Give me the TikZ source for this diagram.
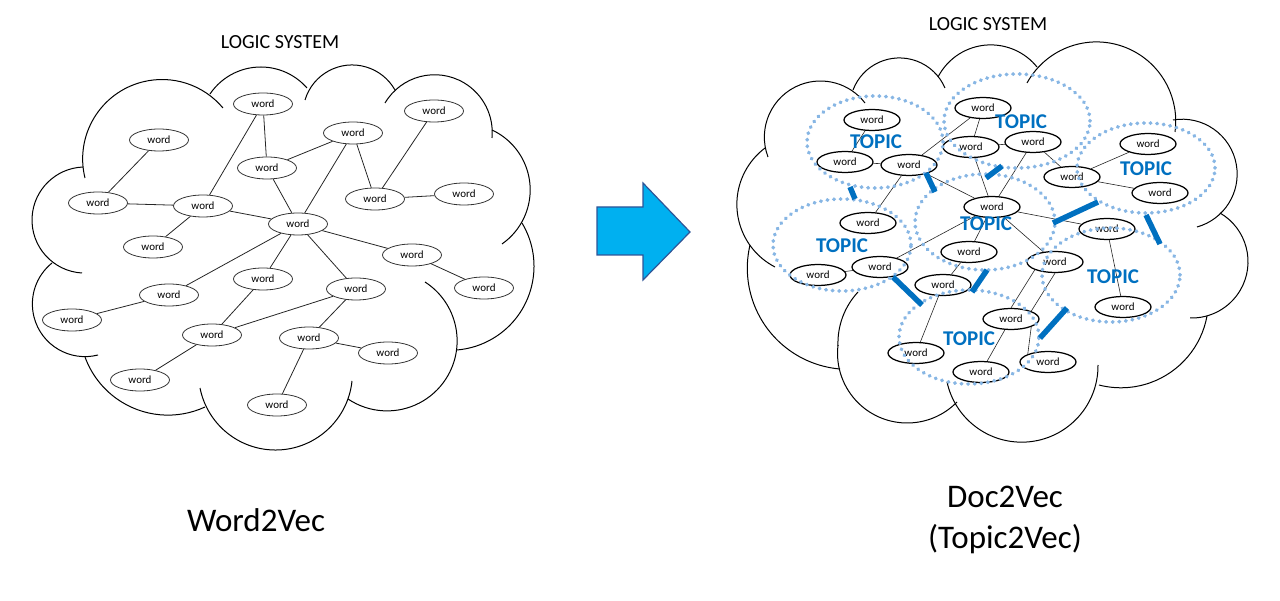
\documentclass[tikz,border=0pt]{standalone}
\usepackage{fontspec}
\setmainfont{Carlito}
\usetikzlibrary{shapes.geometric}
\definecolor{topicblue}{HTML}{0070C0}
\definecolor{dotblue}{RGB}{135,182,228}
\definecolor{arrowfill}{HTML}{00B0F0}
\definecolor{arrowedge}{HTML}{2F5597}
% arc from P1 through P2 to P3 (pixel coordinates, y downwards)
\newcommand\tparc[7][]{%
  \pgfmathsetmacro\tpAx{((#4)-(#2))/100}%
  \pgfmathsetmacro\tpAy{((#3)-(#5))/100}%
  \pgfmathsetmacro\tpBx{((#6)-(#2))/100}%
  \pgfmathsetmacro\tpBy{((#3)-(#7))/100}%
  \pgfmathsetmacro\tpD{2*(\tpAx*\tpBy-\tpAy*\tpBx)}%
  \pgfmathsetmacro\tpAA{\tpAx*\tpAx+\tpAy*\tpAy}%
  \pgfmathsetmacro\tpBB{\tpBx*\tpBx+\tpBy*\tpBy}%
  \pgfmathsetmacro\tpUx{(\tpBy*\tpAA-\tpAy*\tpBB)/\tpD}%
  \pgfmathsetmacro\tpUy{(\tpAx*\tpBB-\tpBx*\tpAA)/\tpD}%
  \pgfmathsetmacro\tpR{100*veclen(\tpUx,\tpUy)}%
  \pgfmathsetmacro\tpa{atan2(-\tpUy,-\tpUx)}%
  \pgfmathsetmacro\tpb{atan2(\tpAy-\tpUy,\tpAx-\tpUx)}%
  \pgfmathsetmacro\tpc{atan2(\tpBy-\tpUy,\tpBx-\tpUx)}%
  \pgfmathsetmacro\tpdb{mod(\tpb-\tpa+720,360)}%
  \pgfmathsetmacro\tpdc{mod(\tpc-\tpa+720,360)}%
  \pgfmathsetmacro\tpdel{\tpdb<\tpdc ? \tpdc : \tpdc-360}%
  \draw[cloudline,#1] (#2,#3) arc[radius=\tpR pt, start angle=\tpa, delta angle=\tpdel];%
}
\tikzset{
  cloudline/.style={draw=black, line width=1pt},
  lword/.style={ellipse, draw=black!80, line width=0.8pt, minimum width=59pt, minimum height=22pt, inner sep=0pt, font=\fontsize{11}{11}\selectfont},
  rword/.style={ellipse, draw=black, line width=1.25pt, minimum width=56pt, minimum height=21pt, inner sep=0pt, font=\fontsize{11}{11}\selectfont},
  ledge/.style={draw=black!85, line width=0.8pt},
  redge/.style={draw=black!85, line width=0.6pt},
  topic/.style={font=\bfseries\fontsize{21}{21}\selectfont, text=topicblue, inner sep=0pt},
  topicring/.style={draw=dotblue, line width=3.8pt, dash pattern=on 0.4pt off 6.2pt, line cap=round},
  linkbar/.style={draw=topicblue, line width=5.5pt},
  caption/.style={font=\fontsize{33}{41}\selectfont, align=center, inner sep=0pt},
  systitle/.style={font=\fontsize{20}{20}\selectfont, inner sep=0pt}
}
\begin{document}
\begin{tikzpicture}[x=1pt, y=-1pt]
\useasboundingbox (0,0) rectangle (1280,601);
% ---------------- left cloud ----------------
\tparc{82}{273}{32}{220}{83}{167}
\tparc{85}{178}{153}{80}{223}{108}
\tparc{210}{94}{260}{67}{307}{88}
\tparc{305}{100}{350}{65}{395}{90}
\tparc{385}{103}{440}{75}{492}{138}
\tparc{492}{130}{530}{185}{502}{244}
\tparc{522}{223}{534}{267}{457}{350}
\tparc{425}{282}{457}{345}{348}{399}
\tparc{352}{381}{277}{450}{200}{388}
\tparc{205}{407}{163}{415}{85}{357}
\tparc{98}{355}{34}{317}{52}{263}
\node[systitle] (lsys) at (280,42) {LOGIC SYSTEM};
% words
\node[lword] (w1) at (263,104) {word};
\node[lword] (w2) at (159,140) {word};
\node[lword] (w3) at (353,133) {word};
\node[lword] (w4) at (434,111) {word};
\node[lword] (w5) at (267,168) {word};
\node[lword] (w6) at (98,203) {word};
\node[lword] (w7) at (203,206) {word};
\node[lword] (w8) at (375,199) {word};
\node[lword] (w9) at (464,194) {word};
\node[lword] (w10) at (298,224) {word};
\node[lword] (w11) at (153,247) {word};
\node[lword] (w12) at (412,255) {word};
\node[lword] (w13) at (484,288) {word};
\node[lword] (w14) at (263,279) {word};
\node[lword] (w15) at (356,289) {word};
\node[lword] (w16) at (169,295) {word};
\node[lword] (w17) at (72,320) {word};
\node[lword] (w18) at (212,335) {word};
\node[lword] (w19) at (309,338) {word};
\node[lword] (w20) at (388,353) {word};
\node[lword] (w21) at (140,380) {word};
\node[lword] (w22) at (277,405) {word};
\foreach \a/\b in {w1/w5, w1/w7, w2/w6, w6/w7, w7/w11, w7/w10, w5/w3, w5/w10,
  w3/w8, w3/w10, w4/w8, w8/w9, w10/w12, w10/w16, w10/w14, w10/w15, w12/w13,
  w16/w17, w14/w18, w15/w18, w15/w19, w19/w20, w19/w22, w18/w21}
  \draw[ledge] (\a) -- (\b);
\node[caption] (lcap) at (256,520) {Word2Vec};
% ---------------- arrow ----------------
\draw[fill=arrowfill, draw=arrowedge, line width=1.2pt, line join=miter]
  (597,207) -- (643,207) -- (643,183) -- (690,232) -- (643,280) -- (643,255) -- (597,255) -- cycle;
% ---------------- right cloud ----------------
\tparc{775}{267}{737}{200}{765}{148}
\tparc{768}{157}{820}{81}{865}{103}
\tparc{853}{90}{897}{58}{945}{88}
\tparc{938}{77}{987}{45}{1037}{67}
\tparc{1027}{83}{1093}{42}{1175}{132}
\tparc{1173}{120}{1237}{170}{1197}{227}
\tparc{1220}{213}{1248}{263}{1190}{318}
\tparc{1207}{316}{1163}{377}{1099}{385}
\tparc{1098}{365}{1027}{442}{947}{382}
\tparc{957}{402}{907}{423}{838}{345}
\tparc{838}{346}{843}{316}{858}{292}
\tparc{750}{245}{748}{280}{840}{369}
\node[systitle] (rsys) at (988,24) {LOGIC SYSTEM};
\node[rword] (r1) at (872,120) {word};
\node[rword] (r2) at (845,162) {word};
\node[rword] (r3) at (909,165) {word};
\node[rword] (r4) at (983,108) {word};
\node[rword] (r5) at (971,147) {word};
\node[rword] (r6) at (1033,142) {word};
\node[rword] (r7) at (1072,177) {word};
\node[rword] (r8) at (1148,144) {word};
\node[rword] (r9) at (1160,193) {word};
\node[rword] (r10) at (992,207) {word};
\node[rword] (r11) at (868,223) {word};
\node[rword] (r12) at (1107,229) {word};
\node[rword] (r13) at (969,252) {word};
\node[rword] (r14) at (880,267) {word};
\node[rword] (r15) at (818,275) {word};
\node[rword] (r16) at (1055,262) {word};
\node[rword] (r17) at (943,285) {word};
\node[rword] (r18) at (1011,319) {word};
\node[rword] (r19) at (1123,307) {word};
\node[rword] (r20) at (916,353) {word};
\node[rword] (r21) at (981,372) {word};
\node[rword] (r22) at (1048,362) {word};
\foreach \a/\b in {r1/r2, r2/r3, r3/r4, r3/r11, r3/r10, r4/r5, r5/r6, r5/r10,
  r6/r10, r6/r7, r7/r8, r7/r9, r10/r12, r10/r14, r10/r13, r10/r16, r14/r15,
  r13/r17, r12/r19, r18/r21, r17/r20}
  \draw[redge] (\a) -- (\b);
\draw[redge] (r16.south west) -- (r18.north);
\draw[redge] (r16.south) -- (r18.north east);
\draw[redge] (r18.south east) -- (r22.north west);
% topic rings
\draw[topicring] (875,142) ellipse [x radius=68pt, y radius=46pt];
\draw[topicring] (1017,121) ellipse [x radius=73pt, y radius=47pt];
\draw[topicring] (1146,168) ellipse [x radius=69pt, y radius=45pt];
\draw[topicring] (842,245) ellipse [x radius=69pt, y radius=46pt];
\draw[topicring] (985,222) ellipse [x radius=70pt, y radius=48pt];
\draw[topicring] (1111,275) ellipse [x radius=69pt, y radius=47pt];
\draw[topicring] (969,337) ellipse [x radius=70pt, y radius=47pt];
\node[topic] (t1) at (876,142) {TOPIC};
\node[topic] (t2) at (1021,122) {TOPIC};
\node[topic] (t3) at (1146,169) {TOPIC};
\node[topic] (t4) at (842,246) {TOPIC};
\node[topic] (t5) at (986,224) {TOPIC};
\node[topic] (t6) at (1113,277) {TOPIC};
\node[topic] (t7) at (969,339) {TOPIC};
% links between topics
\coordinate (b1a) at (850,187); \coordinate (b1b) at (855,199);
\coordinate (b2a) at (926,173); \coordinate (b2b) at (935,192);
\coordinate (b3a) at (986,178); \coordinate (b3b) at (1002,166);
\coordinate (b4a) at (1053,223); \coordinate (b4b) at (1098,202);
\coordinate (b5a) at (1146,215); \coordinate (b5b) at (1160,244);
\coordinate (b6a) at (893,277); \coordinate (b6b) at (922,305);
\coordinate (b7a) at (972,292); \coordinate (b7b) at (987,270);
\coordinate (b8a) at (1040,338); \coordinate (b8b) at (1067,308);
\foreach \k in {1,...,8} \draw[linkbar] (b\k a) -- (b\k b);
\node[caption] (rcap) at (1005,520) {Doc2Vec\\(Topic2Vec)};
\end{tikzpicture}
\end{document}
